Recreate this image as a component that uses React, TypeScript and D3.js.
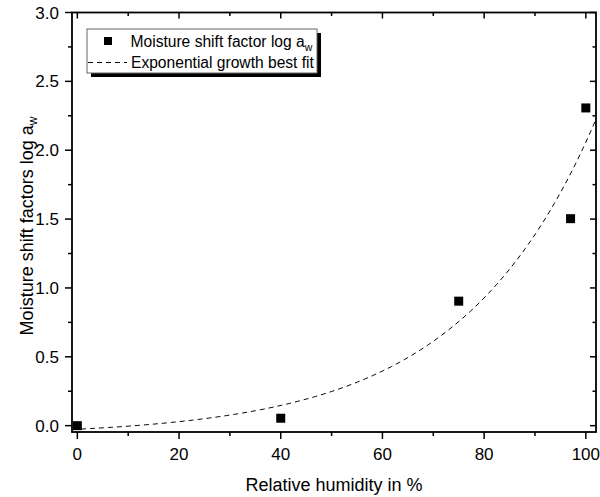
import React from "react";
import * as d3 from "d3";

// Data
const humidity = [0, 40, 75, 97, 100];
const shiftFactor = [0.0, 0.054, 0.904, 1.503, 2.307];

// Exponential growth best fit: y = y0 + A * exp(x / t)
const fitY0 = -0.075;
const fitA = 0.049;
const fitT = 26.5;

const xTicks = [0, 20, 40, 60, 80, 100];
const xMinorTicks = [10, 30, 50, 70, 90];
const yTicks = [0, 0.5, 1.0, 1.5, 2.0, 2.5, 3.0];
const yMinorTicks = [0.25, 0.75, 1.25, 1.75, 2.25, 2.75];

const W = 600;
const H = 497;
const L = 72, R = 596, T = 12.5, B = 432;
const FONT = "'Liberation Sans', Arial, sans-serif";

export default function App() {
  const x = d3.scaleLinear().domain([-1.05, 102.0]).range([L, R]);
  const y = d3.scaleLinear().domain([-0.046, 3.0]).range([B, T]);

  const fitXs = d3.range(0, 201).map((i) => -1.05 + (i / 200) * (102.0 + 1.05));
  const fitPts: [number, number][] = fitXs.map((v) => [v, fitY0 + fitA * Math.exp(v / fitT)]);
  const line = d3
    .line<[number, number]>()
    .x((d) => x(d[0]))
    .y((d) => y(d[1]));

  const major = 7, minor = 4;
  const inMajor = 6, inMinor = 3.5;
  const sq = 9;

  return (
    <svg
      width={W}
      height={H}
      style={{ position: "absolute", left: 0, top: 0, background: "#fff" }}
      fontFamily={FONT}
    >
      <rect x={0} y={0} width={W} height={H} fill="#fff" />
      <defs>
        <clipPath id="plotclip">
          <rect x={L} y={T} width={R - L} height={B - T} />
        </clipPath>
      </defs>

      {/* fit curve */}
      <path
        d={line(fitPts) || ""}
        fill="none"
        stroke="#000"
        strokeWidth={1}
        strokeDasharray="5,4"
        clipPath="url(#plotclip)"
      />

      {/* data points */}
      {humidity.map((h, i) => (
        <rect
          key={i}
          x={x(h) - sq / 2}
          y={y(shiftFactor[i]) - sq / 2}
          width={sq}
          height={sq}
          fill="#000"
        />
      ))}

      {/* ticks bottom (outward) and top (inward) */}
      {xTicks.map((t) => (
        <g key={"xt" + t}>
          <line x1={x(t)} x2={x(t)} y1={B} y2={B + major} stroke="#000" strokeWidth={1.5} />
          <line x1={x(t)} x2={x(t)} y1={T} y2={T + inMajor} stroke="#000" strokeWidth={1.5} />
          <text x={x(t)} y={460} textAnchor="middle" fontSize={17} fill="#000">
            {t}
          </text>
        </g>
      ))}
      {xMinorTicks.map((t) => (
        <g key={"xm" + t}>
          <line x1={x(t)} x2={x(t)} y1={B} y2={B + minor} stroke="#000" strokeWidth={1.5} />
          <line x1={x(t)} x2={x(t)} y1={T} y2={T + inMinor} stroke="#000" strokeWidth={1.5} />
        </g>
      ))}

      {/* ticks left (outward) and right (inward) */}
      {yTicks.map((t) => (
        <g key={"yt" + t}>
          <line x1={L - major} x2={L} y1={y(t)} y2={y(t)} stroke="#000" strokeWidth={1.5} />
          <line x1={R - inMajor} x2={R} y1={y(t)} y2={y(t)} stroke="#000" strokeWidth={1.5} />
          <text x={59} y={y(t)} dy="0.36em" textAnchor="end" fontSize={17} fill="#000">
            {t.toFixed(1)}
          </text>
        </g>
      ))}
      {yMinorTicks.map((t) => (
        <g key={"ym" + t}>
          <line x1={L - minor} x2={L} y1={y(t)} y2={y(t)} stroke="#000" strokeWidth={1.5} />
          <line x1={R - inMinor} x2={R} y1={y(t)} y2={y(t)} stroke="#000" strokeWidth={1.5} />
        </g>
      ))}

      {/* frame */}
      <rect x={L} y={T} width={R - L} height={B - T} fill="none" stroke="#000" strokeWidth={1.8} />

      {/* axis titles */}
      <text x={(L + R) / 2} y={491} textAnchor="middle" fontSize={18} fill="#000">
        Relative humidity in %
      </text>
      <text
        transform={`translate(33, 226) rotate(-90)`}
        textAnchor="middle"
        fontSize={18}
        fill="#000"
      >
        Moisture shift factors log a
        <tspan fontSize={12} dy={4}>w</tspan>
      </text>

      {/* legend */}
      <g>
        <rect x={91} y={33} width={230} height={44} fill="#000" />
        <rect x={87} y={29} width={230} height={44} fill="#fff" stroke="#666" strokeWidth={1} />
        <rect x={104} y={37} width={8} height={8} fill="#000" />
        <text x={130.5} y={46.5} fontSize={15.6} fill="#000">
          Moisture shift factor log a
          <tspan fontSize={10.5} dy={4}>w</tspan>
        </text>
        <line x1={88} x2={127} y1={62.5} y2={62.5} stroke="#000" strokeWidth={1} strokeDasharray="5,4" />
        <text x={131} y={68} fontSize={15.6} fill="#000">
          Exponential growth best fit
        </text>
      </g>
    </svg>
  );
}
